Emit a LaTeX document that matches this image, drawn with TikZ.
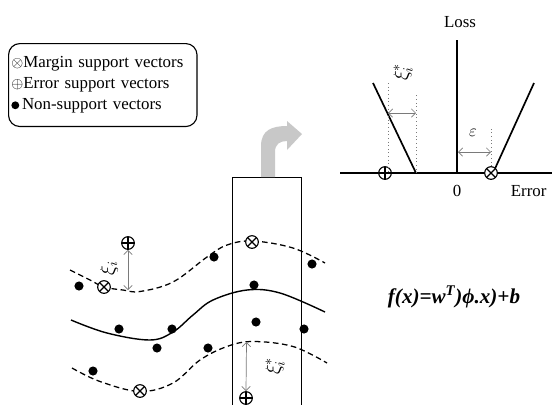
\documentclass[tikz,border=0pt]{standalone}
\usepackage{fontspec}
\setmainfont{Liberation Serif}
\usetikzlibrary{arrows.meta}
\definecolor{svGray}{HTML}{7A7A7A}
\definecolor{bendGray}{HTML}{C8C8C8}
\newcommand{\keysym}[1]{{\fontsize{10.5}{10}\selectfont$#1$}}

\begin{document}
\begin{tikzpicture}[x=0.025cm, y=-0.025cm,
    every node/.style={font=\fontsize{12}{14.9}\selectfont},
    margin/.style={circle, draw, line width=0.8pt, minimum size=9pt, inner sep=0pt, fill=white,
      path picture={\draw[line width=0.8pt] (path picture bounding box.center) +(45:6pt) -- +(225:6pt)
        (path picture bounding box.center) +(135:6pt) -- +(-45:6pt);}},
    error/.style={circle, draw, line width=0.8pt, minimum size=9pt, inner sep=0pt, fill=white,
      path picture={\draw[line width=0.8pt] (path picture bounding box.center) +(0:6pt) -- +(180:6pt)
        (path picture bounding box.center) +(90:6pt) -- +(-90:6pt);}},
    dot/.style={circle, fill, inner sep=0pt, minimum size=6.5pt},
    tube/.style={dash pattern=on 4pt off 2.5pt, line width=0.9pt},
    gap/.style={{Straight Barb[length=3pt]}-{Straight Barb[length=3pt]}, svGray, line width=0.5pt},
    guide/.style={dotted, svGray, line width=0.6pt},
    slack/.style={rotate=90, font=\fontsize{14}{14}\selectfont}
  ]
    \useasboundingbox (0,0) rectangle (552,404);

    % legend
    \node[draw, rounded corners=8pt, line width=0.8pt, anchor=north west, align=left,
      minimum width=134pt, minimum height=59pt, inner xsep=1pt, text width=130pt] (key) at (8,43)
      {\keysym{\otimes}Margin support vectors\\
       \keysym{\oplus}Error support vectors\\
       \smash{\tikz[baseline=-3.2pt]\fill (0,0) circle (2.8pt);}\,Non-support vectors};

    % loss function
    \coordinate (o) at (457,173);
    \draw[line width=1.1pt] (340,173) -- (560,173);
    \draw[line width=1.1pt] (o) -- (457,40) coordinate (ltop);
    \node (loss) at (460,22) {Loss};
    \node (zero) at (457,191) {0};
    \node[anchor=east] (err) at (551.5,191) {Error};
    \draw[line width=1.2pt] (373,83) -- (416,173) coordinate (kl);
    \draw[line width=1.2pt] (493,173) coordinate (kr) -- (534,83);
    \node[error] (le) at (385,173) {};
    \node[margin] (lm) at (491,173) {};
    \draw[guide] (388,83) -- (388,173);
    \draw[guide] (kl) -- (416,93);
    \draw[guide] (lm.north) -- (491,127);
    \draw[gap] (388,113) -- (416,113);
    \draw[gap] (458,152) -- (491,152);
    \node[slack] (xsl) at (403,72) {$\xi_i^*$};
    \node (eps) at (473,133) {$\varepsilon$};

    % feature space strip
    \draw[line width=0.6pt] (232,410) -- (232,177) -- (301,177) -- (301,410);
    \fill[bendGray] (261,177) -- (261,146) .. controls (261,130) and (272,126) .. (287,126)
      -- (287,121) -- (302,134) -- (287,150) -- (287,141)
      .. controls (280,141) and (275,144) .. (275,152) -- (275,177) -- cycle;

    % tube and regression curve
    \draw[tube] plot[smooth, tension=0.6] coordinates {(70,270) (90,280) (104,287) (123,290) (140,291.5) (173,282) (207,257) (227,245) (253,241) (293,248) (325,263)};
    \draw[line width=1pt] plot[smooth, tension=0.6] coordinates {(71,320) (107,333) (150,340) (173,332) (193,315) (213,300) (247,290) (280,293) (325,312)};
    \draw[tube] plot[smooth, tension=0.6] coordinates {(72,368) (100,381.5) (140,391.5) (173,383) (200,360) (227,346.5) (253,341.5) (293,346.5) (327,363)};

    % data points
    \foreach \px/\py [count=\k] in {79/286, 214/257, 312/264, 254/285, 119/329, 172/329,
                                   256/322, 304/329, 157/348, 208/348, 93/371}
      \node[dot] (p\k) at (\px,\py) {};
    \node[margin] (m1) at (104,287) {};
    \node[margin] (m2) at (252,242) {};
    \node[margin] (m3) at (140,391) {};
    \node[error] (e1) at (128,243) {};
    \node[error] (e2) at (246,398) {};

    % slack arrows
    \coordinate (t1) at (128,290);
    \coordinate (t2) at (246.5,342);
    \draw[gap] (e1.south) -- (t1);
    \draw[gap] (t2) -- (e2.north);
    \node[slack] (xs1) at (109,268) {$\xi_i$};
    \node[slack] (xs2) at (275,366) {$\xi_i^*$};

    % regression function
    \node (fx) at (454,297) {\fontsize{15}{15}\selectfont\bfseries\itshape f(x)=w\textsuperscript{T})ϕ.x)+b};
  \end{tikzpicture}
\end{document}
